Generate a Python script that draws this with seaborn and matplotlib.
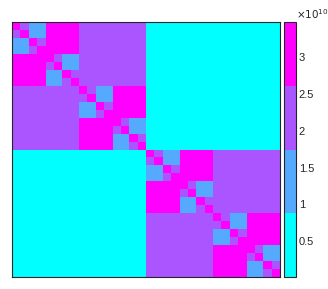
import numpy as np
import pandas as pd
import matplotlib
matplotlib.use("Agg")
import matplotlib.pyplot as plt
from matplotlib.colors import ListedColormap
from matplotlib.ticker import ScalarFormatter
import seaborn as sns

# ---- data ----
n_cells = 32
# value of off-diagonal blocks per level (level 1 = half-size blocks ... level 5 = finest)
level_values = [0.02e10, 2.2e10, 3.4e10, 1.3e10, 2.2e10]
diag_value = 3.48e10
cbar_ticks = [0.5e10, 1.0e10, 1.5e10, 2.0e10, 2.5e10, 3.0e10]
cbar_ticklabels = ["0.5", "1", "1.5", "2", "2.5", "3"]
vmin, vmax = 0.014e10, 3.48e10
cool4 = ["#00ffff", "#55aaff", "#aa55ff", "#ff00ff"]

# ---- build matrix from the block-level table ----
n_levels = len(level_values)
mat = np.empty((n_cells, n_cells))
for i in range(n_cells):
    for j in range(n_cells):
        d = i ^ j
        if d == 0:
            mat[i, j] = diag_value
        else:
            lvl = n_levels - d.bit_length()  # 0-based level index
            mat[i, j] = level_values[lvl]
df = pd.DataFrame(mat)

sns.set_style("white")
plt.rcParams['font.family'] = ['Liberation Sans', 'DejaVu Sans']

W, H = 328, 289
fig = plt.figure(figsize=(W / 100, H / 100), dpi=100)
ax = fig.add_axes([12 / W, (H - 277) / H, 268 / W, 255 / H])
cax = fig.add_axes([284 / W, (H - 277) / H, 12 / W, 255 / H])

sns.heatmap(df, ax=ax, cbar_ax=cax, cmap=ListedColormap(cool4), vmin=vmin, vmax=vmax,
            xticklabels=False, yticklabels=False)

edge = "#262626"
for sp in ax.spines.values():
    sp.set_visible(True)
    sp.set_color(edge)
    sp.set_linewidth(0.8)
ax.tick_params(left=False, bottom=False)

cb = ax.collections[0].colorbar
cb.outline.set_visible(True)
cb.outline.set_linewidth(0.8)
cb.outline.set_edgecolor(edge)
cb.set_ticks(cbar_ticks)
cb.set_ticklabels(cbar_ticklabels)
cax.tick_params(direction="in", length=3, width=0.6, labelsize=8, colors=edge, pad=2)
cax.text(1.0, 1.005, r"$\times10^{10}$", transform=cax.transAxes, ha="left", va="bottom",
         fontsize=7.5, color=edge)

fig.savefig("out.png", dpi=100)
